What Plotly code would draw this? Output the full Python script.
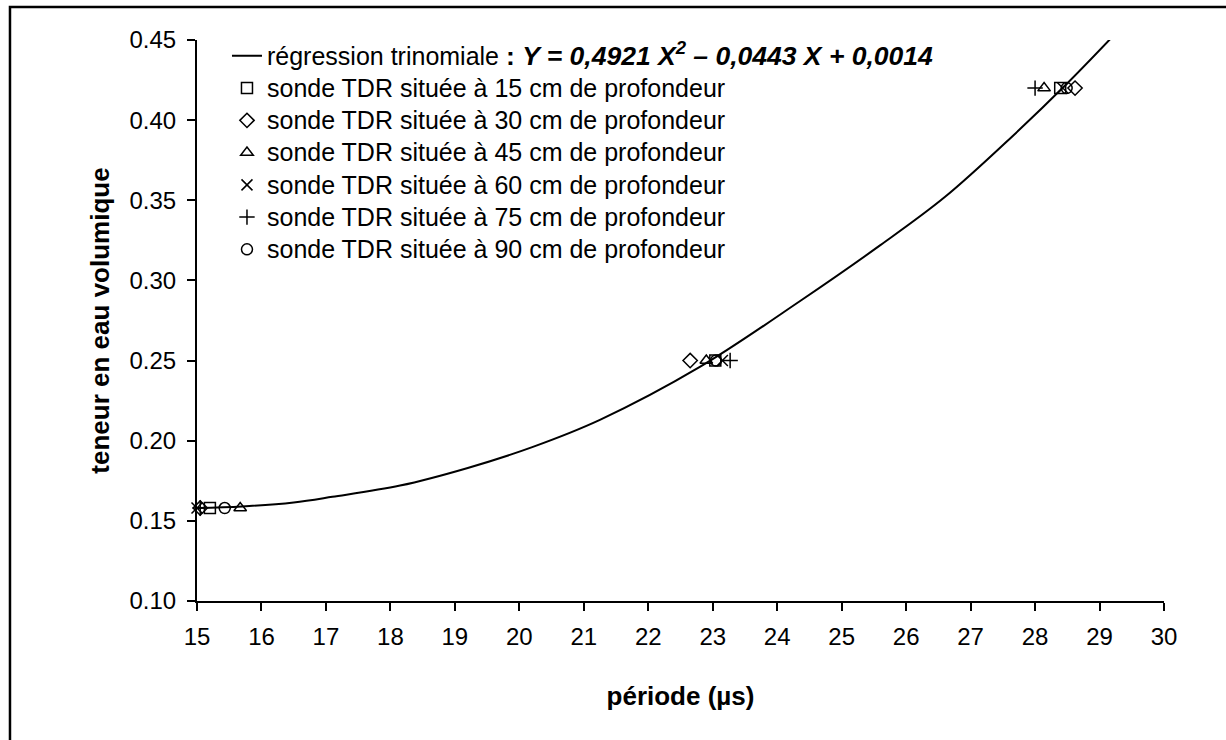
import plotly.graph_objects as go

# Regression curve
curve_x = [15.0, 15.7, 16.5, 17.1, 18.15, 19.2, 20.2, 21.25, 22.8, 24.35, 25.6, 26.6, 27.65, 28.5, 29.27]
curve_y = [0.158, 0.159, 0.1615, 0.165, 0.172, 0.183, 0.196, 0.213, 0.246, 0.287, 0.322, 0.352, 0.390, 0.423, 0.455]

# Measured points per probe depth
theta = [0.158, 0.25, 0.42]
x_15 = [15.2, 23.04, 28.39]
x_30 = [15.05, 22.65, 28.62]
x_45 = [15.67, 22.9, 28.14]
x_60 = [15.0, 23.15, 28.43]
x_75 = [15.05, 23.27, 28.0]
x_90 = [15.43, 23.05, 28.49]

x_ticks = list(range(15, 31))
y_ticks = [0.10, 0.15, 0.20, 0.25, 0.30, 0.35, 0.40, 0.45]

FONT = "Liberation Sans, Arial, sans-serif"


def big(s, size=25):
    return '<span style="font-size:%spx">' % size + s + "</span>"


fig = go.Figure()
fig.add_trace(go.Scatter(
    x=curve_x, y=curve_y, mode="lines", line=dict(color="black", width=2, shape="spline"),
    name=big("régression trinomiale ") + big("<b>: <i>Y = 0,4921 X<sup>2</sup> – 0,0443 X + 0,0014</i></b>", 26.5),
))

series = [
    ("sonde TDR située à 15 cm de profondeur", x_15, "square-open"),
    ("sonde TDR située à 30 cm de profondeur", x_30, "diamond-open"),
    ("sonde TDR située à 45 cm de profondeur", x_45, "triangle-up-open"),
    ("sonde TDR située à 60 cm de profondeur", x_60, "x-thin-open"),
    ("sonde TDR située à 75 cm de profondeur", x_75, "cross-thin-open"),
    ("sonde TDR située à 90 cm de profondeur", x_90, "circle-open"),
]
for name, xs, sym in series:
    fig.add_trace(go.Scatter(
        x=xs, y=theta, mode="markers", name=big(name), cliponaxis=False,
        marker=dict(symbol=sym, size=11, color="black", line=dict(color="black", width=1.5)),
    ))

fig.update_layout(
    width=1226, height=740,
    margin=dict(l=197, r=62, t=40, b=139),
    paper_bgcolor="white", plot_bgcolor="white",
    font=dict(family=FONT, size=24, color="black"),
    showlegend=True,
    legend=dict(x=0.031, y=1.0094, xanchor="left", yanchor="top", bgcolor="rgba(0,0,0,0)",
                font=dict(size=22.5), tracegroupgap=0),
    xaxis=dict(
        range=[15, 30], tickvals=x_ticks, ticktext=[str(v) for v in x_ticks],
        showgrid=False, zeroline=False, showline=True, linecolor="black", linewidth=2,
        ticks="outside", ticklen=8, tickwidth=2, tickcolor="black",
        tickfont=dict(size=24), ticklabelstandoff=5,
        title=dict(text="<b>période (µs)</b>", font=dict(size=26), standoff=38),
    ),
    yaxis=dict(
        range=[0.10, 0.45], tickvals=y_ticks, ticktext=["%.2f" % v for v in y_ticks],
        showgrid=False, zeroline=False, showline=True, linecolor="black", linewidth=2,
        ticks="outside", ticklen=8, tickwidth=2, tickcolor="black",
        tickfont=dict(size=24), ticklabelstandoff=6,
        title=dict(text="<b>teneur en eau volumique</b>", font=dict(size=26), standoff=12),
    ),
    shapes=[dict(type="rect", xref="paper", yref="paper",
                 x0=-0.1934, x1=1.08, y0=-0.27, y1=1.0588,
                 line=dict(color="black", width=2.5), fillcolor="rgba(0,0,0,0)")],
)

fig.write_html("out.html")
